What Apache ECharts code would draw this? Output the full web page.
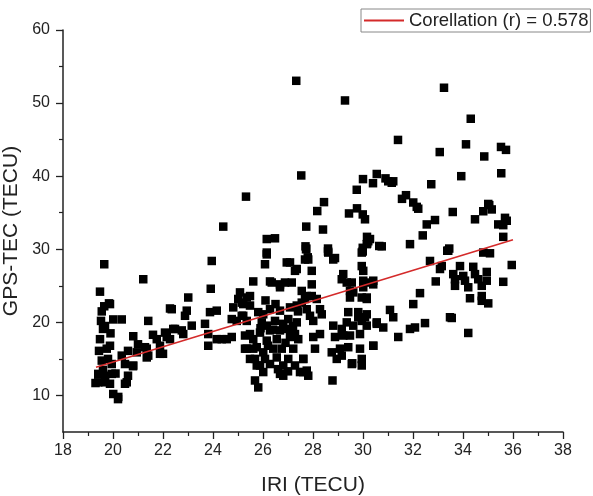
<!DOCTYPE html>
<html>
<head>
<meta charset="utf-8">
<script src="https://cdn.jsdelivr.net/npm/echarts@6/dist/echarts.min.js"></script>
<style>
html,body{margin:0;padding:0;background:#fff;}
#chart{width:593px;height:496px;}
</style>
</head>
<body>
<div id="chart"></div>
<script>
// IRI (TECU) values
const iri = [
19.65,21.21,19.48,19.84,19.65,19.52,19.68,20.01,20.35,19.48,20.81,21.0,21.28,19.44,19.75,20.6,20.35,21.41,19.55,19.95,20.48,20.81,19.41,19.68,19.95,20.6,19.41,19.68,19.88,20.48,20.01,20.21,20.2,19.3,19.88,19.6,19.88,20.95,21.35,21.35,20.55,20.8,19.6,19.8,20.1,19.9,19.55,
21.41,21.6,22.08,22.41,21.75,21.88,21.88,22.0,22.15,22.28,22.35,22.48,22.75,22.81,22.88,22.95,23.01,23.15,23.68,23.81,23.81,23.95,23.91,23.88,24.15,24.15,24.35,24.55,22.28,
24.41,25.32,24.75,24.95,25.15,25.35,25.08,25.15,25.35,25.01,25.21,24.81,25.28,25.35,25.48,24.75,25.21,25.28,25.48,25.48,25.48,
26.15,26.08,27.08,27.35,27.68,25.61,26.28,26.68,26.88,27.15,26.68,27.55,25.81,26.01,26.28,26.68,27.08,27.35,27.55,27.75,25.95,26.15,26.48,26.81,27.01,27.35,25.88,26.28,26.68,27.01,27.28,25.61,26.15,26.55,27.08,27.41,25.75,26.01,26.41,26.75,27.21,25.68,26.08,26.55,27.01,27.61,25.88,26.28,26.81,27.28,26.01,26.68,27.48,27.75,25.68,25.81,25.75,25.61,26.81,26.15,26.15,26.35,26.95,27.28,26.48,27.33,27.53,27.73,27.79,27.73,28.17,28.44,28.4,28.6,28.88,29.28,27.7,28.6,
26.4,26.9,26.2,27.2,26.6,27.0,25.9,26.5,27.4,26.1,
27.72,27.81,28.61,28.81,29.95,29.95,30.01,27.95,29.21,29.15,29.35,29.55,30.01,30.41,27.95,27.95,29.48,29.61,30.01,29.48,29.95,30.15,27.68,28.15,27.75,28.28,28.35,27.88,28.01,29.41,29.81,30.15,30.55,28.81,29.15,29.35,29.61,29.95,30.15,28.01,28.28,28.88,29.21,29.48,29.88,30.41,28.08,28.75,29.08,29.41,29.88,27.61,28.95,29.15,29.95,29.55,29.95,27.61,27.81,28.78,29.81,30.08,30.15,30.15,29.44,29.76,29.99,30.08,29.75,30.0,30.55,30.4,30.16,30.17,29.99,30.65,29.99,30.21,30.15,29.57,
30.9,31.15,31.01,31.21,31.4,32.73,31.56,31.72,32.15,32.01,32.21,32.55,32.88,32.39,30.75,31.88,30.28,33.37,32.68,33.08,33.15,32.91,30.41,32.28,32.01,31.08,31.21,30.55,30.81,31.88,32.08,32.48,31.41,30.41,33.48,33.24,33.07,33.45,
34.31,34.12,34.85,35.52,35.72,35.53,33.93,33.59,35.01,34.81,35.15,34.48,35.68,35.75,35.41,35.61,35.61,35.95,33.41,34.81,35.08,33.88,34.41,34.95,33.61,34.01,34.48,33.68,34.08,34.61,34.95,33.68,34.21,34.75,35.61,34.28,34.75,35.01,34.75,33.55,34.21,35.05
];
// GPS-TEC (TECU) values
const gpsTec = [
27.95,25.9,24.2,22.6,22.2,20.2,19.5,20.4,20.4,17.7,18.1,17.0,16.6,16.1,16.4,16.1,15.45,15.45,14.77,14.3,14.3,14.1,12.95,12.7,12.95,12.7,11.8,11.8,11.6,11.6,10.2,9.8,9.5,11.7,22.5,19.1,16.8,15.9,16.4,15.2,11.8,14.0,13.5,15.0,13.0,18.5,21.5,
20.2,18.3,18.6,19.1,17.7,16.8,15.7,15.7,18.0,21.9,21.8,19.1,18.9,18.4,20.9,21.6,23.4,19.55,19.8,18.4,16.8,28.4,24.6,21.4,21.6,17.7,17.7,17.7,17.7,
33.1,37.2,20.45,20.2,20.9,20.2,24.1,22.7,23.4,23.2,22.5,22.05,18.2,16.4,15.0,18.0,20.9,16.4,18.4,22.3,23.6,
29.55,27.95,28.2,27.3,28.6,25.6,25.6,25.2,25.45,25.45,24.8,24.3,21.4,21.1,21.8,21.6,22.05,22.3,22.7,23.6,20.0,19.55,20.2,19.8,20.45,20.0,18.6,18.9,18.9,19.1,18.4,17.7,17.5,17.7,18.0,17.7,16.6,15.9,16.4,16.4,16.4,15.0,15.0,15.2,15.0,15.0,14.1,14.3,14.1,14.1,13.2,12.95,13.2,13.4,12.05,11.1,14.1,16.4,12.7,31.4,29.3,25.45,28.2,27.05,31.5,53.05,40.1,33.1,28.9,30.1,35.23,36.45,32.7,29.7,28.8,50.36,30.4,30.1,
19.0,17.2,16.8,19.5,13.6,13.3,19.2,22.5,21.5,23.0,
30.0,28.6,29.55,28.6,29.55,27.7,27.05,27.05,26.6,25.9,25.45,25.45,25.7,25.7,25.2,23.6,24.3,24.1,24.8,23.4,23.4,23.2,23.2,23.2,21.8,21.8,21.1,20.9,20.2,21.4,21.4,21.1,19.8,19.55,19.1,20.0,19.55,20.2,19.55,18.0,18.4,18.0,18.2,18.2,18.4,16.8,16.4,15.9,16.4,16.6,16.4,15.0,15.0,15.45,15.0,14.3,14.1,13.2,12.7,12.05,20.7,20.7,25.45,23.4,34.9,35.6,34.77,34.1,38.14,39.6,40.3,39.04,31.7,30.8,29.7,30.45,30.2,31.1,30.7,14.4,
39.7,39.1,39.3,39.3,44.96,38.9,36.9,37.4,35.8,36.4,35.55,33.4,34.0,31.9,30.4,30.7,31.4,29.8,28.4,27.3,27.7,25.6,25.2,24.0,22.5,21.7,20.7,20.0,19.3,19.1,19.3,19.9,18.0,16.8,20.7,52.1,43.3,30.1,
47.86,44.36,42.7,44.0,43.6,40.4,40.0,35.1,36.2,35.2,35.45,34.1,34.3,33.9,33.4,33.3,31.7,27.85,29.8,29.55,29.45,27.7,27.6,26.9,26.6,26.35,26.6,25.9,25.7,25.9,25.7,25.0,24.8,25.0,25.55,23.3,23.6,22.6,22.95,20.6,18.55,36.04
];
// Fitted line end points (IRI, GPS-TEC)
const fitX = [19.32, 36.0];
const fitY = [13.87, 31.3];
const legendLabel = 'Corellation (r) = 0.578';
const xName = 'IRI (TECU)';
const yName = 'GPS-TEC (TECU)';
const yMajor = [10, 20, 30, 40, 50, 60];
const yMinor = [15, 25, 35, 45, 55];

const pts = iri.map((x, i) => [x, gpsTec[i]]);
const fit = fitX.map((x, i) => [x, fitY[i]]);

const chart = echarts.init(document.getElementById('chart'), null, {renderer: 'canvas'});
const font = 'Arial, "Liberation Sans", sans-serif';
const axisCol = '#222';
chart.setOption({
  animation: false,
  backgroundColor: '#fff',
  grid: {left: 63, right: 30, top: 30, bottom: 64, containLabel: false, outerBoundsMode: 'none'},
  legend: {
    left: 361, top: 9,
    padding: [2, 2, 2, 3],
    borderColor: '#888', borderWidth: 1,
    itemWidth: 40, itemHeight: 2,
    data: [{name: legendLabel, icon: 'rect'}],
    textStyle: {fontFamily: font, fontSize: 18.5, color: '#222'}
  },
  xAxis: {
    type: 'value', min: 18, max: 38, interval: 2,
    name: xName, nameLocation: 'middle', nameGap: 43,
    nameTextStyle: {fontFamily: font, fontSize: 21, color: axisCol},
    axisLine: {lineStyle: {color: axisCol, width: 1.5}},
    axisTick: {length: 7, lineStyle: {color: axisCol, width: 1.3}},
    minorTick: {show: true, splitNumber: 2, length: 4, lineStyle: {color: axisCol, width: 1.2}},
    axisLabel: {fontFamily: font, fontSize: 16, color: axisCol, margin: 11},
    splitLine: {show: false}
  },
  yAxis: [{
    type: 'value', min: 5, max: 60, position: 'left',
    name: yName, nameLocation: 'middle', nameGap: 32,
    nameTextStyle: {fontFamily: font, fontSize: 21, color: axisCol},
    axisLine: {show: true, lineStyle: {color: axisCol, width: 1.5}},
    axisTick: {show: true, length: 7, customValues: yMajor, lineStyle: {color: axisCol, width: 1.3}},
    axisLabel: {fontFamily: font, fontSize: 16, color: axisCol, margin: 13, customValues: yMajor},
    splitLine: {show: false}
  }, {
    type: 'value', min: 5, max: 60, position: 'left', offset: 0,
    axisLine: {show: false},
    axisTick: {show: true, length: 4, customValues: yMinor, lineStyle: {color: axisCol, width: 1.2}},
    axisLabel: {show: false},
    splitLine: {show: false}
  }],
  series: [{
    type: 'scatter',
    name: 'data',
    data: pts,
    symbol: 'rect',
    symbolSize: 8.5,
    itemStyle: {color: '#000', opacity: 1},
    z: 2
  }, {
    type: 'line',
    name: legendLabel,
    data: fit,
    symbol: 'none',
    lineStyle: {color: '#d42a2a', width: 1.6},
    itemStyle: {color: '#d42a2a'},
    z: 3
  }]
});
</script>
</body>
</html>
